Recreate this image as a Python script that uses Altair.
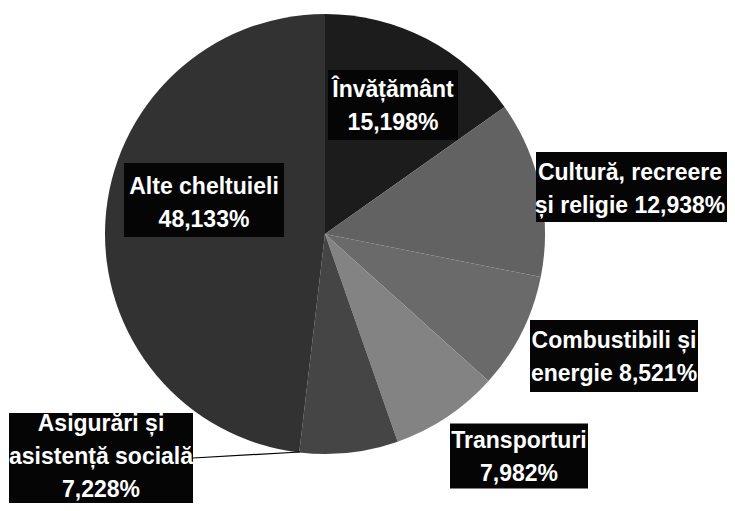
import altair as alt
import pandas as pd

# ---- data ----
categories = [
    "Învățământ",
    "Cultură, recreere și religie",
    "Combustibili și energie",
    "Transporturi",
    "Asigurări și asistență socială",
    "Alte cheltuieli",
]
values = [15.198, 12.938, 8.521, 7.982, 7.228, 48.133]
label_heads = [
    ["Învățământ"],
    ["Cultură, recreere", "și religie"],
    ["Combustibili și", "energie"],
    ["Transporturi"],
    ["Asigurări și", "asistență socială"],
    ["Alte cheltuieli"],
]
# percent on its own line (True) or appended to the last line (False)
pct_own_line = [True, False, False, True, True, True]

# ---- styles / layout ----
colors = ["#1c1c1c", "#626262", "#6a6a6a", "#838383", "#454545", "#323232"]
M = 8
CX, CY, R = 325 - M, 234 - M, 220
W, H = 2 * CX, 2 * CY
TOTAL_W, TOTAL_H = 735 - 2 * M, 511 - 2 * M
LH = 33
# label block centres (page px) and box sizes
label_center = [(393, 106), (630, 189), (614, 357), (519, 457), (101, 457), (204, 203)]
box_center = [(393, 105), (631.5, 187), (614, 356), (519, 456), (101, 462), (204, 200)]
box_size = [(130, 70), (191, 70), (168, 72), (138, 65), (184, 98), (160, 74)]
leader = [(193, 458), (300, 452)]


def fmt(v):
    return f"{v:.3f}".replace(".", ",") + "%"


labels, nlines = [], []
for heads, own, v in zip(label_heads, pct_own_line, values):
    lines = list(heads)
    if own:
        lines.append(fmt(v))
    else:
        lines[-1] = lines[-1] + " " + fmt(v)
    labels.append("\n".join(lines))
    nlines.append(len(lines))

df = pd.DataFrame({"category": categories, "value": values, "idx": list(range(len(categories)))})

lab = pd.DataFrame({
    "label": labels,
    "x": [c[0] - M for c in label_center],
    "y": [c[1] - M - (n - 1) * LH / 2 for c, n in zip(label_center, nlines)],
    "x1": [c[0] - M - s[0] / 2 for c, s in zip(box_center, box_size)],
    "x2": [c[0] - M + s[0] / 2 for c, s in zip(box_center, box_size)],
    "y1": [c[1] - M - s[1] / 2 for c, s in zip(box_center, box_size)],
    "y2": [c[1] - M + s[1] / 2 for c, s in zip(box_center, box_size)],
})
ld = pd.DataFrame({"x": [leader[0][0] - M], "y": [leader[0][1] - M],
                   "x2": [leader[1][0] - M], "y2": [leader[1][1] - M]})

pie = alt.Chart(df).mark_arc(outerRadius=R, stroke=None).encode(
    theta=alt.Theta("value:Q", stack=True),
    color=alt.Color("category:N", scale=alt.Scale(domain=categories, range=colors), legend=None),
    order=alt.Order("idx:Q", sort="ascending"),
)

boxes = alt.Chart(lab).mark_rect(color="#050505").encode(
    x=alt.X("x1:Q", scale=None, axis=None),
    x2="x2:Q",
    y=alt.Y("y1:Q", scale=None, axis=None),
    y2="y2:Q",
)

line = alt.Chart(ld).mark_rule(color="#000000", strokeWidth=1.2).encode(
    x=alt.X("x:Q", scale=None, axis=None),
    y=alt.Y("y:Q", scale=None, axis=None),
    x2="x2:Q",
    y2="y2:Q",
)

text = alt.Chart(lab).mark_text(
    font="Liberation Sans", fontWeight="bold", fontSize=23, color="white",
    lineBreak="\n", lineHeight=LH, align="center", baseline="middle",
).encode(
    x=alt.X("x:Q", scale=None, axis=None),
    y=alt.Y("y:Q", scale=None, axis=None),
    text="label:N",
)

chart = alt.layer(pie, line, boxes, text).properties(
    width=W, height=H,
    padding={"left": 0, "top": 0, "right": TOTAL_W - W, "bottom": TOTAL_H - H},
    autosize=alt.AutoSizeParams(type="none"),
    background="white",
).configure_view(stroke=None)

chart.save("out.html", embed_options={"renderer": "svg", "actions": False})
